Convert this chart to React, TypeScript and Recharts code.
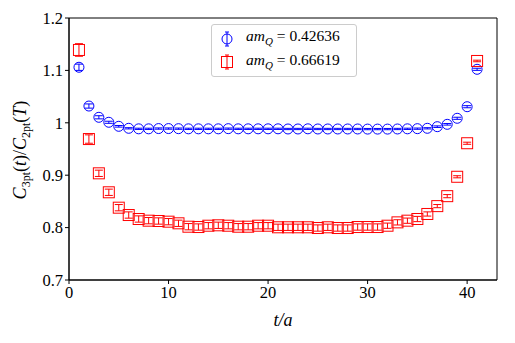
import React from "react";
import { ScatterChart, Scatter, XAxis, YAxis, ErrorBar, Legend, Label, ReferenceArea } from "recharts";

const times = [1, 2, 3, 4, 5, 6, 7, 8, 9, 10, 11, 12, 13, 14, 15, 16, 17, 18, 19, 20, 21, 22, 23, 24, 25, 26, 27, 28, 29, 30, 31, 32, 33, 34, 35, 36, 37, 38, 39, 40, 41];

const blueVals = [1.106, 1.032, 1.0105, 1.001, 0.9933, 0.9895, 0.9885, 0.9885, 0.989, 0.989, 0.9888, 0.9885, 0.9885, 0.9885, 0.9885, 0.9888, 0.9885, 0.9885, 0.9885, 0.9885, 0.9885, 0.9882, 0.9882, 0.9885, 0.9882, 0.9882, 0.9882, 0.9882, 0.9882, 0.988, 0.988, 0.988, 0.9882, 0.9885, 0.9888, 0.9895, 0.9926, 0.9971, 1.0086, 1.0307, 1.1021];
const blueErr = [0.006, 0.004, 0.003, 0.002, 0.0015, 0.0012, 0.0012, 0.0012, 0.0012, 0.0012, 0.0012, 0.0012, 0.0012, 0.0012, 0.0012, 0.0012, 0.0012, 0.0012, 0.0012, 0.0012, 0.0012, 0.0012, 0.0012, 0.0012, 0.0012, 0.0012, 0.0012, 0.0012, 0.0012, 0.0012, 0.0012, 0.0012, 0.0012, 0.0012, 0.0012, 0.0012, 0.0015, 0.0015, 0.002, 0.002, 0.002];

const redVals = [1.139, 0.969, 0.9036, 0.8674, 0.838, 0.824, 0.8164, 0.8132, 0.8126, 0.8113, 0.8082, 0.8017, 0.8011, 0.8036, 0.8044, 0.8036, 0.8017, 0.8017, 0.8036, 0.8036, 0.8006, 0.8006, 0.8006, 0.8006, 0.7992, 0.8006, 0.7992, 0.7992, 0.8011, 0.8011, 0.8011, 0.8036, 0.81, 0.8132, 0.8164, 0.826, 0.841, 0.86, 0.897, 0.961, 1.118];
const redErr = [0.012, 0.008, 0.006, 0.006, 0.006, 0.006, 0.006, 0.006, 0.006, 0.006, 0.006, 0.006, 0.006, 0.006, 0.006, 0.006, 0.006, 0.006, 0.006, 0.006, 0.006, 0.006, 0.006, 0.006, 0.006, 0.006, 0.006, 0.006, 0.006, 0.006, 0.006, 0.005, 0.005, 0.005, 0.005, 0.004, 0.003, 0.003, 0.002, 0.002, 0.0015];

const xTicks = [0, 10, 20, 30, 40];
const yTicks = [0.7, 0.8, 0.9, 1.0, 1.1, 1.2];

const blueLabel = "0.42636";
const redLabel = "0.66619";

const blueData = times.map((t, i) => ({ t, v: blueVals[i], err: blueErr[i] }));
const redData = times.map((t, i) => ({ t, v: redVals[i], err: redErr[i] }));

const FONT = "'Liberation Serif', serif";

const Circle = (props: any) => (
  <circle cx={props.cx} cy={props.cy} r={5} fill="none" stroke="#0000ff" strokeWidth={1} />
);
const Square = (props: any) => (
  <rect x={props.cx - 5.5} y={props.cy - 5.5} width={11} height={11} fill="none" stroke="#ff0000" strokeWidth={1} />
);

const LegendBox = () => (
  <div
    style={{
      border: "1px solid #cccccc",
      borderRadius: 3,
      background: "white",
      padding: "2px 4px 2px 8px",
      fontFamily: FONT,
      fontSize: 15.5,
      lineHeight: "17.5px",
      width: 132,
    }}
  >
    {[
      { label: blueLabel, kind: "c" },
      { label: redLabel, kind: "s" },
    ].map((e) => (
      <div key={e.label} style={{ display: "flex", alignItems: "center" }}>
        <svg width={14} height={16} style={{ marginRight: 12 }}>
          {e.kind === "c" ? (
            <g stroke="#0000ff" fill="none">
              <line x1={7} y1={1} x2={7} y2={15} />
              <line x1={5} y1={1} x2={9} y2={1} />
              <line x1={5} y1={15} x2={9} y2={15} />
              <circle cx={7} cy={8} r={5} />
            </g>
          ) : (
            <g stroke="#ff0000" fill="none">
              <line x1={7} y1={1} x2={7} y2={15} />
              <line x1={5} y1={1} x2={9} y2={1} />
              <line x1={5} y1={15} x2={9} y2={15} />
              <rect x={1.5} y={2.5} width={11} height={11} />
            </g>
          )}
        </svg>
        <span>
          <i>am</i>
          <sub style={{ fontSize: 11, fontStyle: "italic" }}>Q</sub> = {e.label}
        </span>
      </div>
    ))}
  </div>
);

const YLabel = () => (
  <text transform="rotate(-90)" x={-150} y={26} textAnchor="middle" fontFamily={FONT} fontSize={18} fill="#000">
    <tspan fontStyle="italic">C</tspan>
    <tspan fontSize={12} dy={4}>3pt</tspan>
    <tspan dy={-4}>(</tspan>
    <tspan fontStyle="italic">t</tspan>
    <tspan>)/</tspan>
    <tspan fontStyle="italic">C</tspan>
    <tspan fontSize={12} dy={4}>2pt</tspan>
    <tspan dy={-4}>(</tspan>
    <tspan fontStyle="italic">T</tspan>
    <tspan>)</tspan>
  </text>
);

const XLabel = () => (
  <text x={283} y={326} textAnchor="middle" fontFamily={FONT} fontSize={18} fontStyle="italic" fill="#000">
    t/a
  </text>
);

const tickStyle = { fontFamily: FONT, fontSize: 16.5, fill: "#000" };

export default function App() {
  return (
    <div style={{ position: "absolute", left: 0, top: 0, background: "white" }}>
      <ScatterChart width={515} height={343} margin={{ top: 18, right: 18, bottom: 23, left: 0 }}>
        <XAxis
          type="number"
          dataKey="t"
          domain={[0, 43]}
          ticks={xTicks}
          allowDataOverflow
          height={40}
          stroke="#000"
          tickSize={4}
          tick={tickStyle}
          tickLine={{ stroke: "#000" }}
        >
          <Label content={<XLabel />} />
        </XAxis>
        <YAxis
          type="number"
          dataKey="v"
          domain={[0.7, 1.2]}
          ticks={yTicks}
          allowDataOverflow
          width={69}
          stroke="#000"
          tickSize={4}
          tick={tickStyle}
          tickFormatter={(v: number) => String(+v.toFixed(1))}
        >
          <Label content={<YLabel />} />
        </YAxis>
        <ReferenceArea x1={0} x2={43} y1={0.7} y2={1.2} fill="none" stroke="#000" strokeWidth={1} ifOverflow="visible" />
        <Legend
          layout="horizontal"
          verticalAlign="middle"
          align="center"
          content={<LegendBox />}
          wrapperStyle={{ position: "absolute", left: 211, top: 24, width: "auto" }}
        />
        <Scatter data={blueData} shape={<Circle />} isAnimationActive={false}>
          <ErrorBar dataKey="err" direction="y" width={4} stroke="#0000ff" strokeWidth={1} />
        </Scatter>
        <Scatter data={redData} shape={<Square />} isAnimationActive={false}>
          <ErrorBar dataKey="err" direction="y" width={4} stroke="#ff0000" strokeWidth={1} />
        </Scatter>
      </ScatterChart>
    </div>
  );
}
